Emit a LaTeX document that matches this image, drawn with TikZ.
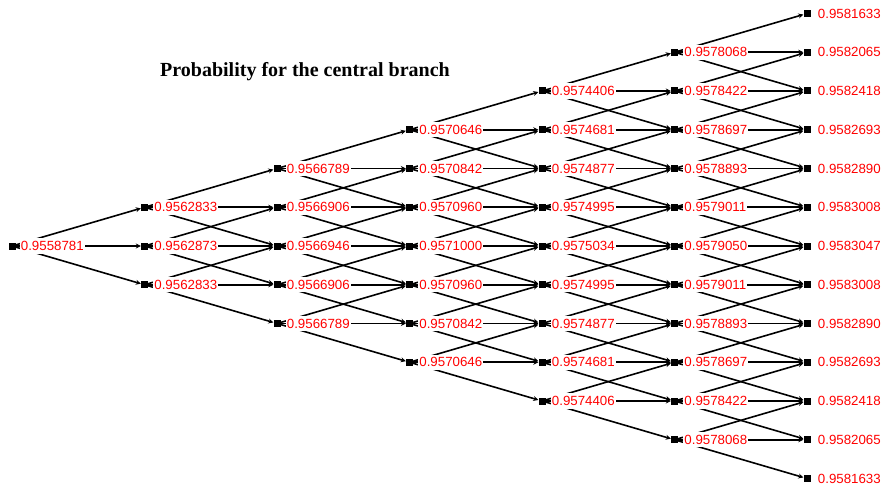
\documentclass[tikz,border=0pt]{standalone}
\usepackage{fontspec}
\setmainfont{Liberation Sans}
\newfontfamily\titlefont{Liberation Serif}
\usetikzlibrary{arrows.meta}
\definecolor{lblred}{RGB}{255,0,0}
\tikzset{
  marker/.style={fill=black, draw=none, rectangle, minimum size=7pt, inner sep=0pt},
  lbl/.style={anchor=west, text=lblred, font=\fontsize{13.3}{15}\selectfont, inner xsep=1pt, inner ysep=3pt, fill=white},
  branch/.style={line width=1.6pt, -{Stealth[length=5pt,width=5pt]}},
}
\begin{document}
\begin{tikzpicture}[x=1pt,y=-1pt]
\useasboundingbox (0,0) rectangle (888,489);
% markers
\foreach \k in {0,...,6}{
  \pgfmathtruncatemacro{\n}{2*\k}
  \foreach \j in {0,...,\n}{
    \node[marker] (m-\k-\j) at ({12+132.5*\k},{246+38.75*(\j-\k)}) {};
  }
}
% branches
\foreach \k in {0,...,5}{
  \pgfmathtruncatemacro{\n}{2*\k}
  \pgfmathtruncatemacro{\kk}{\k+1}
  \foreach \j in {0,...,\n}{
    \pgfmathtruncatemacro{\a}{\j+1}
    \pgfmathtruncatemacro{\b}{\j+2}
    \draw[branch] (m-\k-\j) -- (m-\kk-\j);
    \draw[branch] (m-\k-\j) -- (m-\kk-\a);
    \draw[branch] (m-\k-\j) -- (m-\kk-\b);
  }
}
% labels
\foreach \v [count=\i from 0] in {0.9558781}
  {\node[lbl] (t-0-\i) at ([xshift=4pt]m-0-\i.east) {\v};}
\foreach \v [count=\i from 0] in {0.9562833,0.9562873,0.9562833}
  {\node[lbl] (t-1-\i) at ([xshift=5pt]m-1-\i.east) {\v};}
\foreach \v [count=\i from 0] in {0.9566789,0.9566906,0.9566946,0.9566906,0.9566789}
  {\node[lbl] (t-2-\i) at ([xshift=5pt]m-2-\i.east) {\v};}
\foreach \v [count=\i from 0] in {0.9570646,0.9570842,0.9570960,0.9571000,0.9570960,0.9570842,0.9570646}
  {\node[lbl] (t-3-\i) at ([xshift=5pt]m-3-\i.east) {\v};}
\foreach \v [count=\i from 0] in {0.9574406,0.9574681,0.9574877,0.9574995,0.9575034,0.9574995,0.9574877,0.9574681,0.9574406}
  {\node[lbl] (t-4-\i) at ([xshift=5pt]m-4-\i.east) {\v};}
\foreach \v [count=\i from 0] in {0.9578068,0.9578422,0.9578697,0.9578893,0.9579011,0.9579050,0.9579011,0.9578893,0.9578697,0.9578422,0.9578068}
  {\node[lbl] (t-5-\i) at ([xshift=5pt]m-5-\i.east) {\v};}
\foreach \v [count=\i from 0] in {0.9581633,0.9582065,0.9582418,0.9582693,0.9582890,0.9583008,0.9583047,0.9583008,0.9582890,0.9582693,0.9582418,0.9582065,0.9581633}
  {\node[lbl] (t-6-\i) at ([xshift=6pt]m-6-\i.east) {\v};}
% title
\node[anchor=base, font=\titlefont\bfseries\fontsize{20}{24}\selectfont, inner sep=0pt] (title) at (305,77) {Probability for the central branch};
\end{tikzpicture}
\end{document}
